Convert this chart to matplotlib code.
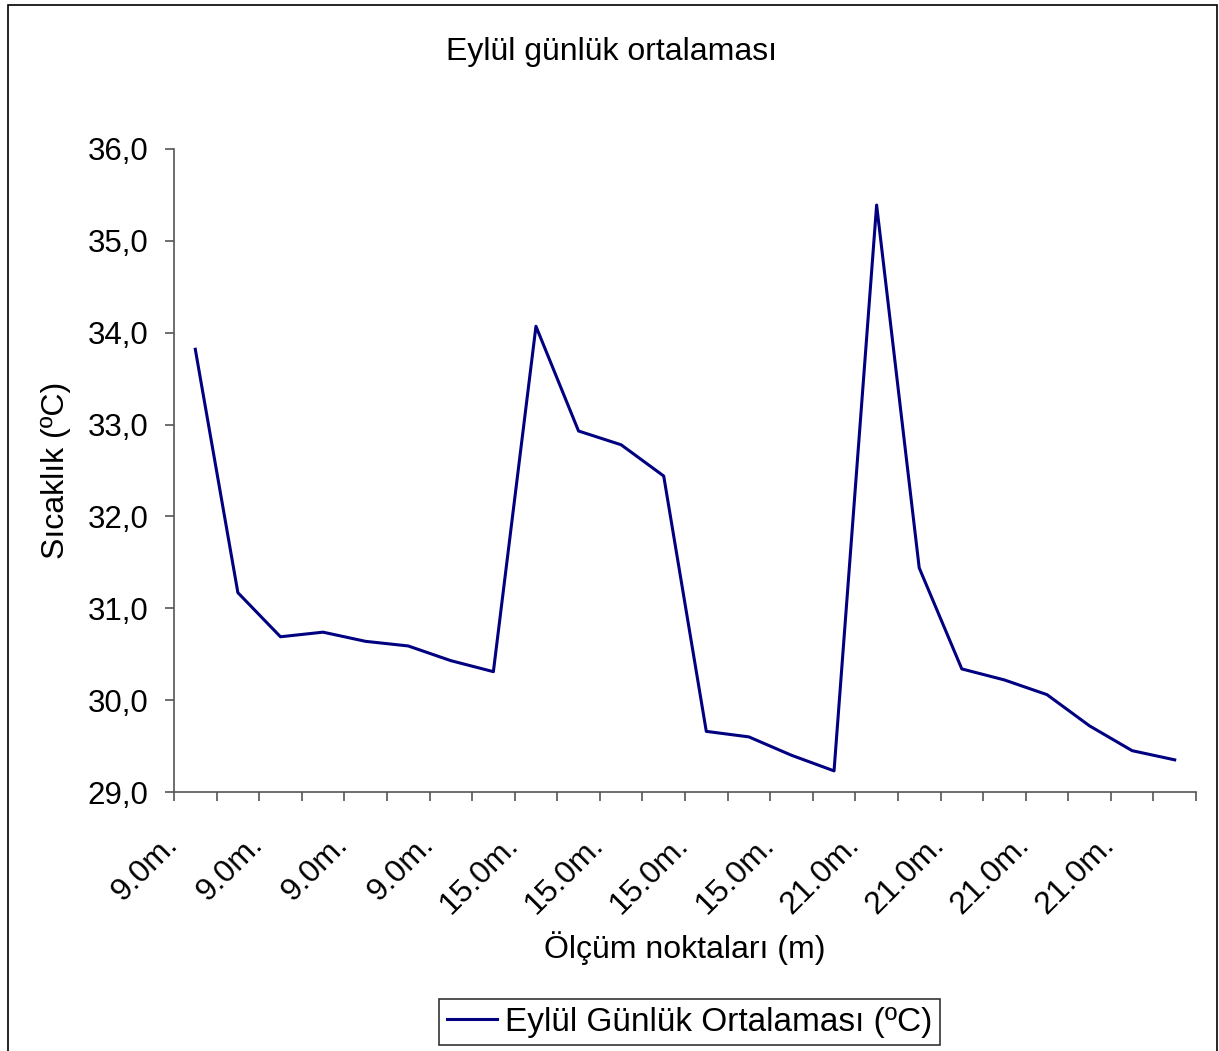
import numpy as np
import matplotlib
matplotlib.use("Agg")
import matplotlib.pyplot as plt
import matplotlib.transforms as mtransforms
from matplotlib.patches import Rectangle

plt.rcParams['font.family'] = ['Liberation Sans', 'DejaVu Sans']

categories = ["9.0m."] * 8 + ["15.0m."] * 8 + ["21.0m."] * 8
values = [33.82, 31.17, 30.69, 30.74, 30.64, 30.59, 30.43, 30.31,
          34.07, 32.93, 32.78, 32.44, 29.66, 29.60, 29.40, 29.23,
          35.39, 31.44, 30.34, 30.22, 30.06, 29.72, 29.45, 29.35]
series_name = "Eylül Günlük Ortalaması (ºC)"
title = "Eylül günlük ortalaması"
xlabel = "Ölçüm noktaları (m)"
ylabel = "Sıcaklık (ºC)"
yticks = [29, 30, 31, 32, 33, 34, 35, 36]

W, H = 1219, 1051
fig = plt.figure(figsize=(W / 100, H / 100), dpi=100)
ax = fig.add_axes([174 / W, 1 - 792 / H, (1196 - 174) / W, (792 - 149) / H])

x = np.arange(len(values))
ax.plot(x, values, color='#000080', lw=2.2, label=series_name)

ax.set_xlim(-0.5, len(values) - 0.5)
ax.set_ylim(29, 36)
ax.set_yticks(yticks)
ax.set_yticklabels([f"{v:.1f}".replace('.', ',') for v in yticks], fontsize=22.5)

ax.set_xticks(np.arange(-0.5, len(values), 1))
ax.set_xticklabels([])
ax.tick_params(axis='both', which='major', length=6.5, width=1.2, color='#555555')
ax.tick_params(axis='y', pad=12)

# rotated category labels, every second category
base = mtransforms.blended_transform_factory(ax.transData, ax.transAxes)
off = mtransforms.ScaledTranslation(-22 / 100, -48 / 100, fig.dpi_scale_trans)
for i in x[::2]:
    ax.text(i, 0, categories[i], transform=base + off, rotation=45,
            rotation_mode='anchor', ha='right', va='center', fontsize=23,
            clip_on=False)

for s in ['top', 'right']:
    ax.spines[s].set_visible(False)
for s in ['left', 'bottom']:
    ax.spines[s].set_color('#555555')
    ax.spines[s].set_linewidth(1.2)

fig.text(56 / W, 1 - 470 / H, ylabel, rotation=90, ha='center', va='center', fontsize=23)
fig.text(685 / W, 1 - 948 / H, xlabel, ha='center', va='center', fontsize=23)
fig.text(612 / W, 1 - 52 / H, title, ha='center', va='center', fontsize=23)

leg = fig.legend(loc='center', bbox_to_anchor=(689.5 / W, 1 - 1022 / H), fontsize=24,
                 frameon=True, fancybox=False, edgecolor='black',
                 handlelength=1.5, borderpad=0.22, handletextpad=0.25,
                 borderaxespad=0)
leg.get_frame().set_linewidth(1.2)

fig.patches.append(Rectangle((8 / W, -0.01), 1 - 10 / W, 1.01 - 5 / H,
                             transform=fig.transFigure, fill=False,
                             edgecolor='black', lw=1.2))

fig.savefig('out.png', dpi=100)
